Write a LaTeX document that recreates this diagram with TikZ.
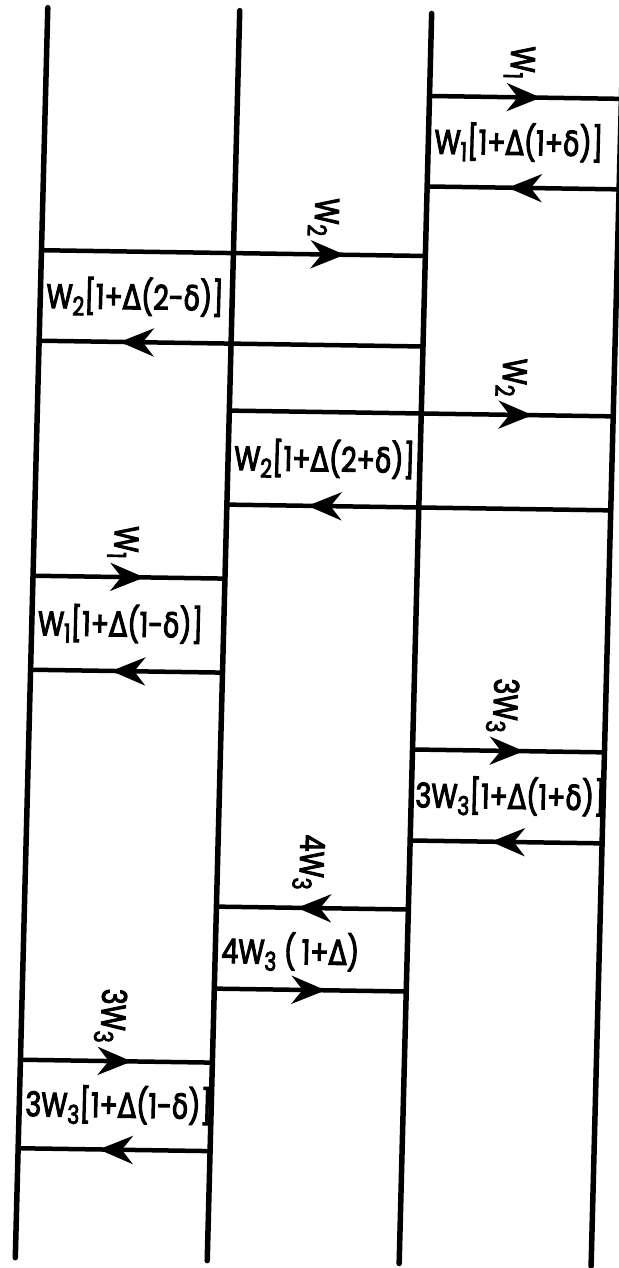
\documentclass[tikz,border=0pt]{standalone}
\usepackage{fontspec}
\setmainfont{Poppins}[FakeStretch=0.79, FakeBold=3]
\newfontfamily\gk{DejaVu Sans}[FakeStretch=0.79, FakeBold=3]
\usetikzlibrary{arrows.meta,decorations.markings}
\newcommand\Dl{{\gk Δ}}
\newcommand\dl{{\gk δ}}
\newcommand\sub[1]{\raisebox{-7pt}{\fontsize{26}{26}\selectfont #1}}

\begin{document}
\begin{tikzpicture}[x=1pt, y=-1pt,
  level/.style={line width=5.5pt, line cap=round},
  flow/.style={line width=4.5pt, postaction={decorate},
    decoration={markings, mark=at position #1 with {\arrow{Stealth[length=34pt, width=28pt, inset=11pt]}}}},
  every node/.style={font=\fontsize{34}{36}\selectfont, inner sep=3pt},
  tag/.style={rotate=-90, anchor=east},
  box/.style={anchor=west}]
  \useasboundingbox (0,0) rectangle (618,1268);
  \begin{scope}[xslant=0.026, yslant=-0.015, transform shape]
  \foreach \i/\x in {1/48, 2/240, 3/432, 4/624} {
    \coordinate (t\i) at (\x,7);
    \coordinate (b\i) at (\x,1257);
    \draw[level] (t\i) -- (b\i);
  }
  \foreach \n/\y/\xa/\xb/\p in {1/89.5/432/624/.58, 2/180/624/432/.58,
      3/249.5/48/432/.79, 4/340/432/48/.79, 5/407/240/624/.79, 6/501/624/240/.79,
      7/575/48/240/.58, 8/669/240/48/.58, 9/743/432/624/.58, 10/834/624/432/.58,
      11/903/432/240/.58, 12/985/240/432/.58, 13/1059/48/240/.58, 14/1147.5/240/48/.58} {
    \coordinate (s\n) at (\xa,\y);
    \coordinate (e\n) at (\xb,\y);
    \draw[flow=\p] (s\n) -- (e\n);
  }
  \node[tag] (w1a) at (521,74.5) {W\sub{1}};
  \node[tag] (w2a) at (329,234.5) {W\sub{2}};
  \node[tag] (w2b) at (521,392) {W\sub{2}};
  \node[tag] (w1b) at (137,560) {W\sub{1}};
  \node[tag] (w3a) at (521,728) {3W\sub{3}};
  \node[tag] (w3b) at (331,888) {4W\sub{3}};
  \node[tag] (w3c) at (137,1044) {3W\sub{3}};
  \node[box] (r1) at (435,134.75) {W\sub{1}[1+\Dl(1+\dl)]};
  \node[box] (r2) at (51,294.75) {W\sub{2}[1+\Dl(2-\dl)]};
  \node[box] (r3) at (243,454) {W\sub{2}[1+\Dl(2+\dl)]};
  \node[box] (r4) at (51,622) {W\sub{1}[1+\Dl(1-\dl)]};
  \node[box] (r5) at (433,788.5) {3W\sub{3}[1+\Dl(1+\dl)]};
  \node[box] (r6) at (243,947) {4W\sub{3} (\,1+\Dl)};
  \node[box] (r7) at (51,1103) {3W\sub{3}[1+\Dl(1-\dl)]};
  \end{scope}
\end{tikzpicture}
\end{document}
